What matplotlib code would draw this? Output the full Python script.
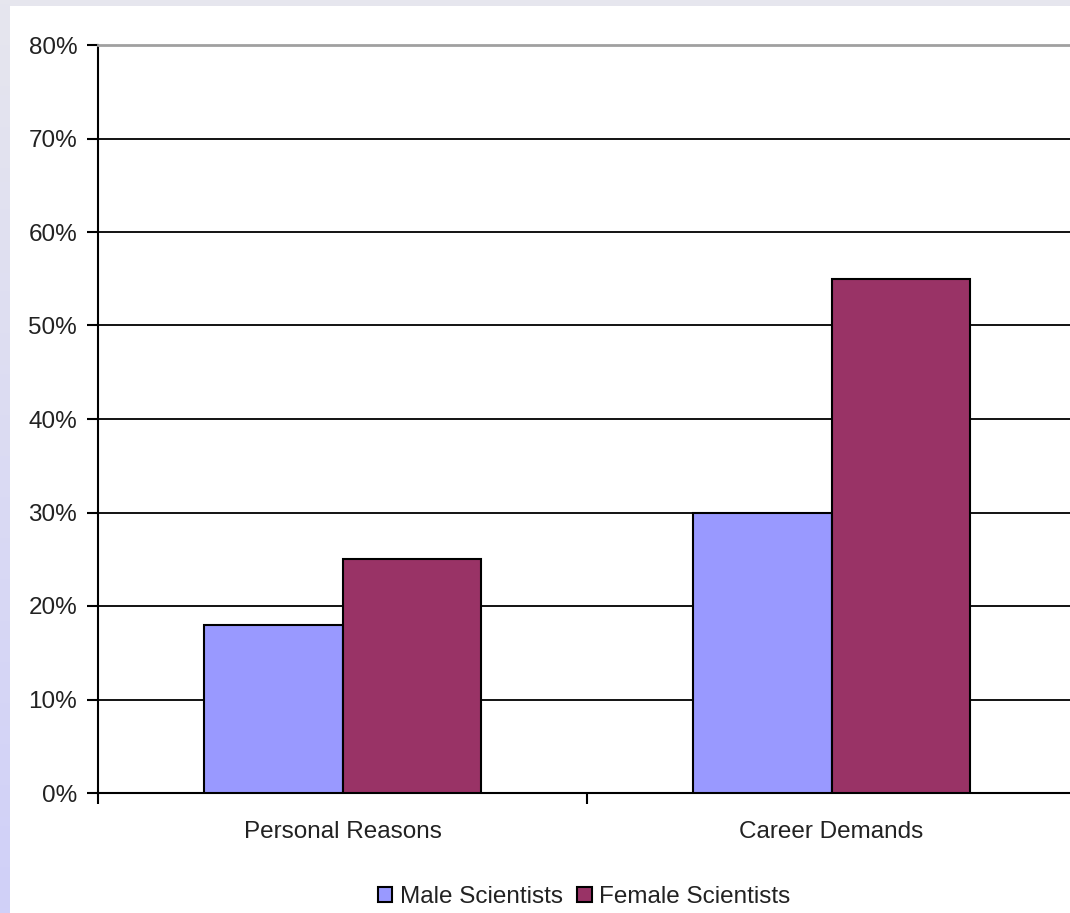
import numpy as np
import matplotlib.pyplot as plt
from matplotlib.ticker import PercentFormatter
from matplotlib.colors import LinearSegmentedColormap

categories = ['Personal Reasons', 'Career Demands']
series_names = ['Male Scientists', 'Female Scientists']
male = [0.18, 0.30]
female = [0.25, 0.55]
yticks = [0.0, 0.1, 0.2, 0.3, 0.4, 0.5, 0.6, 0.7, 0.8]

plt.rcParams['font.family'] = ['Liberation Sans', 'DejaVu Sans']
FS = 17.5

W, H = 1070, 913
fig = plt.figure(figsize=(W / 100, H / 100), dpi=100)
fig.patch.set_facecolor('white')

# page border strips (top grey, left lavender gradient)
top = fig.add_axes([0, 1 - 6 / H, 1, 6 / H])
top.set_axis_off()
top.add_patch(plt.Rectangle((0, 0), 1, 1, color='#e6e6ee', transform=top.transAxes))
left = fig.add_axes([0, 0, 10 / W, 1])
cmap = LinearSegmentedColormap.from_list('strip', ['#e6e6ee', '#d0d0f8'])
left.imshow(np.linspace(0, 1, 200).reshape(-1, 1), aspect='auto', cmap=cmap,
            extent=[0, 1, 0, 1])
left.set_axis_off()

# main plot area, extends slightly past the right edge like the original
ax = fig.add_axes([98 / W, 120 / H, 978 / W, 748 / H])
x = np.arange(len(categories)) + 0.5
bw = 0.284
ax.bar(x - bw / 2, male, bw, color='#9999ff', edgecolor='black', linewidth=1.5,
       label=series_names[0], zorder=3)
ax.bar(x + bw / 2, female, bw, color='#993366', edgecolor='black', linewidth=1.5,
       label=series_names[1], zorder=3)

ax.set_xlim(0, 2)
ax.set_ylim(0, 0.8)
ax.set_yticks(yticks)
ax.yaxis.set_major_formatter(PercentFormatter(1.0, decimals=0))
ax.set_xticks([0, 1, 2])
ax.set_xticklabels([])
ax.set_xticks(x, minor=True)
ax.set_xticklabels(categories, minor=True)
ax.tick_params(axis='x', which='minor', length=0, pad=20, labelsize=FS, colors='#222222')
ax.tick_params(axis='x', which='major', length=8, width=1.5, direction='out')
ax.tick_params(axis='y', length=8, width=1.5, direction='out', pad=7, labelsize=FS,
               labelcolor='#222222')
ax.grid(axis='y', color='black', linewidth=1.3, zorder=1)
ax.set_axisbelow(True)

ax.spines['right'].set_visible(False)
ax.spines['top'].set_color('#a0a0a0')
ax.spines['top'].set_linewidth(2)
ax.spines['left'].set_linewidth(1.5)
ax.spines['bottom'].set_linewidth(1.5)

leg = fig.legend(loc='center', bbox_to_anchor=(584 / W, 1 - 897 / H), ncol=2,
                 frameon=False, fontsize=FS, handlelength=0.6, handleheight=0.6,
                 handletextpad=0.3, columnspacing=0.6, borderpad=0)
for t in leg.get_texts():
    t.set_color('#222222')

fig.savefig('out.png', dpi=100)
